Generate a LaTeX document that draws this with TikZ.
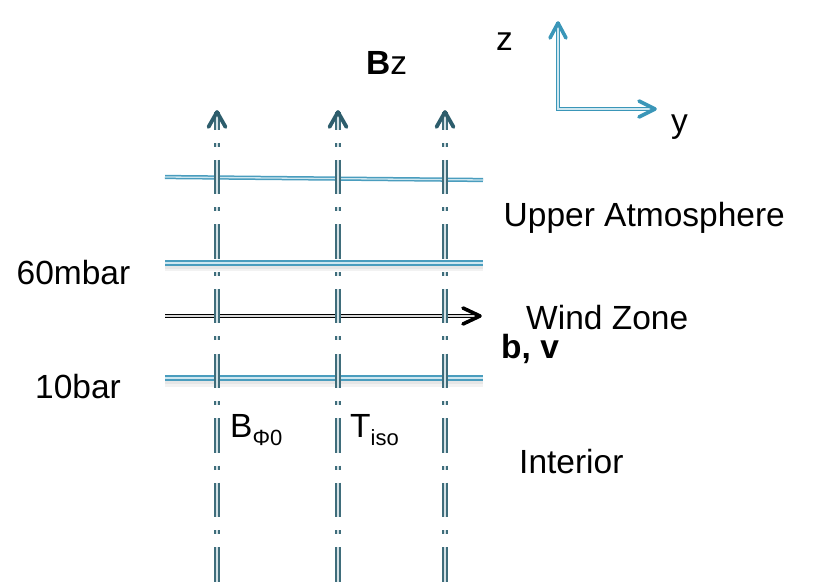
\documentclass[tikz,border=0pt]{standalone}
\usepackage{fontspec}
\setmainfont{Liberation Sans}
\definecolor{vline}{HTML}{3F6D7B}
\definecolor{vinner}{HTML}{D5E2E6}
\definecolor{hline}{HTML}{4A9DBE}
\definecolor{hinner}{HTML}{CFE7F0}
\definecolor{barrow}{HTML}{2D5D6C}
\definecolor{axiscol}{HTML}{3A96B8}
\begin{document}
\begin{tikzpicture}[x=1pt,y=-1pt,
  lbl/.style={inner sep=0pt, anchor=base west, font=\fontsize{33.5}{36}\selectfont},
  fieldline/.style={draw=vline, line width=1.8pt, double=vinner, double distance=1.5pt,
    dash pattern=on 34.5pt off 13pt on 4pt off 13pt, dash phase=16.5pt},
  layer/.style={draw=hline, line width=1.9pt, double=hinner, double distance=1.4pt},
  thinlayer/.style={draw=hline, line width=1.5pt, double=hinner, double distance=1.3pt},
  shade/.style={draw=black, opacity=0.05, line width=#1},
  bhead/.style={draw=barrow, line width=3.8pt, line cap=round, line join=round},
  windline/.style={draw=black, line width=1.7pt, double=black!15, double distance=1.4pt},
  whead/.style={draw=black, line width=3.6pt, line cap=round, line join=round},
  axisline/.style={draw=axiscol, line width=1.7pt, double=hinner, double distance=1.4pt},
  ahead/.style={draw=axiscol, line width=3.6pt, line cap=round, line join=round},
]
\useasboundingbox (0,0) rectangle (830,585);

% layers
\coordinate (u1) at (165,177);
\coordinate (u2) at (483,180);
\coordinate (m1) at (165,263);
\coordinate (m2) at (483,263);
\coordinate (k1) at (165,378);
\coordinate (k2) at (483,378);

\foreach \a/\b in {m1/m2,k1/k2}{
  \draw[shade=9pt] ([yshift=-4]\a) -- ([yshift=-4]\b);
  \draw[shade=5pt] ([yshift=-3.5]\a) -- ([yshift=-3.5]\b);
}
\draw[thinlayer] (u1) -- (u2);
\draw[layer] (m1) -- (m2);
\draw[layer] (k1) -- (k2);

% wind arrow
\coordinate (w1) at (165,316);
\coordinate (w2) at (480,316);
\draw[windline] (w1) -- ([xshift=-2]w2);
\draw[whead] ([shift={(-17,-8)}]w2) -- (w2) -- ([shift={(-17,8)}]w2);

% field lines
\foreach \i/\x in {1/217,2/338,3/445}{
  \coordinate (t\i) at (\x,112);
  \coordinate (b\i) at (\x,590);
  \draw[fieldline] (t\i) -- (b\i);
  \draw[bhead] ([shift={(-8.5,15)}]t\i) -- (t\i) -- ([shift={(8.5,15)}]t\i);
}

% axes
\coordinate (o) at (558,109);
\coordinate (zt) at (558,23);
\coordinate (yt) at (655,109);
\draw[axisline] ([yshift=1]zt) -- (o) -- ([xshift=-1]yt);
\draw[ahead] ([shift={(-8,15)}]zt) -- (zt) -- ([shift={(8,15)}]zt);
\draw[ahead] ([shift={(-16,-8)}]yt) -- (yt) -- ([shift={(-16,8)}]yt);

% labels
\node[lbl] (bz) at (366,75) {\textbf{B}z};
\node[lbl] (zl) at (496,51) {z};
\node[lbl] (yl) at (671,133) {y};
\node[lbl] (ua) at (503.5,227) {Upper Atmosphere};
\node[lbl] (p60) at (16.5,285) {60mbar};
\node[lbl] (wz) at (526,330) {Wind Zone};
\node[lbl] (bv) at (501,358) {\textbf{b, v}};
\node[lbl] (p10) at (35,398) {10bar};
\node[lbl] (int) at (519,473) {Interior};
\node[lbl] (bphi) at (230,437) {B\raisebox{-8pt}{\fontsize{22}{24}\selectfont Φ0}};
\node[lbl] (tiso) at (350,437) {T\raisebox{-8pt}{\fontsize{22}{24}\selectfont iso}};
\end{tikzpicture}
\end{document}
